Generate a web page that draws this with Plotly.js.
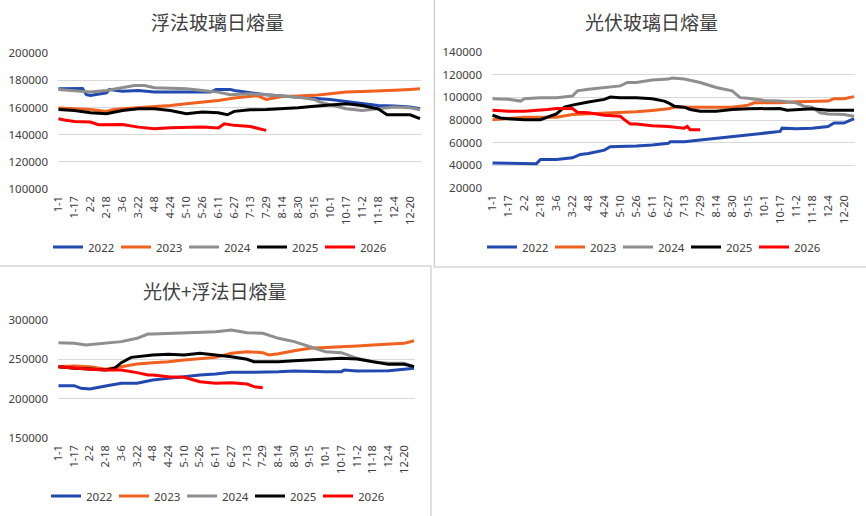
<!DOCTYPE html>
<html>
<head>
<meta charset="utf-8">
<script src="https://cdn.plot.ly/plotly-3.0.1.min.js"></script>
<style>
  html, body { margin: 0; padding: 0; background: #fff; }
  #myDiv { width: 866px; height: 516px; }
</style>
</head>
<body>
<div id="myDiv"></div>
<script>
// x = day index on the category axis (1-1 = 0)
var tickDays = [0,16,32,48,64,80,96,112,128,144,160,176,192,208,224,240,256,272,288,304,320,336,352];
var tickLabels = ['1-1','1-17','2-2','2-18','3-6','3-22','4-8','4-24','5-10','5-26','6-11','6-27','7-13','7-29','8-14','8-30','9-15','10-1','10-17','11-2','11-18','12-4','12-20'];
var years = ['2022','2023','2024','2025','2026'];

// 浮法玻璃日熔量
var float2022x = [0,24,28,32,48,51,64,80,96,152,158,172,176,192,208,224,240,256,272,288,304,320,336,352,362];
var float2022 = [173900,174000,169500,169000,170900,173400,172000,172600,171400,171400,173400,173400,172600,170900,169400,168500,167700,167000,166000,164500,162800,161600,161100,160400,159100];
var float2023x = [0,16,32,48,54,64,80,96,112,128,144,160,176,192,199,208,224,240,256,272,288,304,320,336,352,362];
var float2023 = [159600,159100,158600,157200,158400,159100,159900,160400,161600,162800,164000,165300,167000,168200,168800,166000,168200,168500,169000,170200,171400,171900,172600,172800,173400,173900];
var float2024x = [0,16,32,48,64,76,86,96,112,128,144,160,172,192,208,224,240,256,262,272,288,304,320,336,352,362];
var float2024 = [173400,172600,171500,172600,174400,176300,176300,174600,174300,173900,172600,171400,169400,170200,169400,168500,167700,166000,164000,162100,159100,157900,159100,160400,159900,158400];
var float2025x = [0,16,32,48,64,80,96,112,128,144,160,169,176,192,208,224,240,256,272,288,304,320,329,336,352,362];
var float2025 = [158600,157900,156200,155500,157900,159100,159100,157900,155500,156700,156200,154700,157200,158400,158600,159100,159900,160900,162100,162800,161600,159100,154700,154700,154700,151800];
var float2026x = [0,6,16,32,40,48,64,80,96,112,128,144,160,166,176,192,201,208];
var float2026 = [151800,150800,149800,149300,147400,147400,147600,145600,144400,145100,145100,145600,144900,148100,146900,146100,144400,143200];

// 光伏玻璃日熔量
var solar2022x = [0,16,32,44,48,64,80,88,96,112,118,128,144,160,176,178,192,208,224,240,256,272,288,290,304,320,336,342,352,362];
var solar2022 = [42100,42100,41500,41500,45100,45100,46600,49600,50400,53400,56400,56400,57000,57900,59400,60900,60900,62400,63900,66000,66900,68400,69900,72800,72200,72800,74300,77300,77300,81200];
var solar2023x = [0,16,32,48,64,80,96,112,128,144,160,176,182,192,208,224,240,256,262,272,288,304,320,336,342,352,362];
var solar2023 = [80300,81200,82400,82400,82400,84800,85400,85700,86300,87200,88400,89900,91300,91300,90700,90700,91300,93100,95200,95200,95200,96100,96700,96700,98800,98800,100600];
var solar2024x = [0,16,28,32,48,64,80,85,96,112,128,135,144,160,176,180,192,208,224,240,248,256,272,288,304,312,320,328,336,352,362];
var solar2024 = [98800,98200,96700,98800,99700,99700,101200,105700,107200,108700,110100,113100,113100,115200,116100,117000,116100,113100,108700,105700,99700,99100,97300,96700,95200,92200,91300,86300,85400,84800,83300];
var solar2025x = [0,8,16,32,48,58,64,72,80,96,112,118,128,144,160,172,176,182,192,198,208,224,240,256,272,288,295,304,320,336,352,362];
var solar2025 = [84200,81800,81200,80300,80300,83300,85400,91300,93100,95800,98200,100300,99700,99700,98800,96700,95200,92200,91300,89300,87800,87800,89300,89900,89900,90200,88700,89300,89900,88700,88700,88700];
var solar2026x = [0,16,32,48,55,64,80,85,96,112,128,132,138,144,160,176,192,195,198,208];
var solar2026 = [88700,87800,87800,88400,89300,90200,90200,86900,86300,84200,83300,80300,76400,76400,74900,74300,72800,74300,71300,71300];

// 光伏+浮法日熔量
var total2022x = [0,16,23,32,48,64,80,96,112,128,144,160,176,192,208,224,240,256,272,288,291,304,320,336,352,362];
var total2022 = [216500,216500,213100,212300,216100,219500,219500,223700,225800,228000,230100,231400,233500,233500,233500,234300,235200,234300,234300,234300,236400,235200,235200,235600,237300,238600];
var total2023x = [0,16,32,48,64,80,96,112,128,144,160,176,192,208,214,224,240,256,272,288,304,320,336,352,362];
var total2023 = [240700,241500,240700,237300,240700,244100,245800,247000,249200,251300,252500,257600,259700,258500,255500,257000,261000,264000,264800,266100,266900,268200,269500,270300,273700];
var total2024x = [0,16,28,48,64,80,91,96,112,128,144,160,176,192,208,224,240,256,267,272,288,294,304,320,336,352,362];
var total2024 = [271200,270300,268200,270300,272500,276700,282200,282200,283100,283900,285200,285200,287300,283900,283100,276700,272500,266100,261000,259700,258500,255500,251300,247000,244900,244900,240700];
var total2025x = [0,16,32,48,57,64,74,80,96,112,128,144,160,176,192,199,208,224,240,256,272,288,304,320,332,336,352,362];
var total2025 = [240700,238600,237700,236400,238600,245800,252500,253400,255500,256400,255500,257600,255500,253400,250000,247000,247000,247000,248300,249200,250400,251300,250400,247000,243600,243600,243600,240700];
var total2026x = [0,16,32,48,64,80,91,96,112,128,138,144,160,176,192,199,208];
var total2026 = [240700,238600,237300,236400,236400,233100,230100,230100,228000,227100,223700,221600,219500,220300,218600,215300,214000];

var colors = ['#2149b0','#f0601e','#8e8e8e','#000000','#ff0000'];
var font = 'Noto Sans, "Noto Sans CJK SC", sans-serif';

function makeTraces(xs, ys, xa, ya, leg) {
  var out = [];
  for (var i = 0; i < ys.length; i++) {
    out.push({
      x: xs[i],
      y: ys[i],
      type: 'scatter',
      mode: 'lines',
      name: years[i],
      xaxis: xa,
      yaxis: ya,
      legend: leg,
      line: { color: colors[i], width: 3 },
      hoverinfo: 'x+y'
    });
  }
  return out;
}

var data = []
  .concat(makeTraces([float2022x, float2023x, float2024x, float2025x, float2026x],
                     [float2022, float2023, float2024, float2025, float2026], 'x', 'y', 'legend'))
  .concat(makeTraces([solar2022x, solar2023x, solar2024x, solar2025x, solar2026x],
                     [solar2022, solar2023, solar2024, solar2025, solar2026], 'x2', 'y2', 'legend2'))
  .concat(makeTraces([total2022x, total2023x, total2024x, total2025x, total2026x],
                     [total2022, total2023, total2024, total2025, total2026], 'x3', 'y3', 'legend3'));

function xAxis(dom, anchor) {
  return {
    domain: dom, anchor: anchor, range: [-0.5, 363],
    tickmode: 'array', tickvals: tickDays, ticktext: tickLabels,
    tickangle: -90, showgrid: false, zeroline: false, showline: false,
    ticks: '', ticklabelstandoff: 4, automargin: false,
    tickfont: { family: font, size: 11, color: '#404040' }
  };
}
function yAxis(dom, anchor, rng, step) {
  return {
    domain: dom, anchor: anchor, range: rng, dtick: step, tick0: rng[0],
    showgrid: true, gridcolor: '#d9d9d9', gridwidth: 1, zeroline: false,
    showline: false, ticks: '', ticklabelstandoff: 9, automargin: false,
    tickformat: 'd',
    tickfont: { family: font, size: 11.5, color: '#404040' }
  };
}
function legendAt(x, y) {
  return {
    orientation: 'h', x: x, y: y, xanchor: 'left', yanchor: 'middle',
    entrywidth: 23, entrywidthmode: 'pixels', itemwidth: 30,
    font: { family: font, size: 11.5, color: '#404040' },
    bgcolor: 'rgba(0,0,0,0)', borderwidth: 0
  };
}
function titleAt(text, x, y) {
  return {
    text: text, x: x, y: y, xref: 'paper', yref: 'paper',
    xanchor: 'center', yanchor: 'middle', showarrow: false,
    font: { family: '"Noto Sans CJK SC", sans-serif', size: 19, color: '#404040' }
  };
}

var W = 866, H = 516;
var layout = {
  width: W, height: H,
  margin: { l: 0, r: 0, t: 0, b: 0 },
  paper_bgcolor: '#ffffff', plot_bgcolor: 'rgba(0,0,0,0)',
  showlegend: true,
  xaxis: xAxis([58 / W, 421 / W], 'y'),
  yaxis: yAxis([1 - 189 / H, 1 - 53.3 / H], 'x', [100000, 200000], 20000),
  xaxis2: xAxis([492 / W, 855 / W], 'y2'),
  yaxis2: yAxis([1 - 188 / H, 1 - 52 / H], 'x2', [20000, 140000], 20000),
  xaxis3: xAxis([58 / W, 415 / W], 'y3'),
  yaxis3: yAxis([1 - 438 / H, 1 - 320 / H], 'x3', [150000, 300000], 50000),
  legend: legendAt(48 / W, 1 - 247 / H),
  legend2: legendAt(482 / W, 1 - 247 / H),
  legend3: legendAt(46 / W, 1 - 496 / H),
  annotations: [
    titleAt('浮法玻璃日熔量', 217 / W, 1 - 22 / H),
    titleAt('光伏玻璃日熔量', 651 / W, 1 - 22 / H),
    titleAt('光伏+浮法日熔量', 215 / W, 1 - 290 / H)
  ],
  shapes: [
    { type: 'line', xref: 'paper', yref: 'paper', x0: 434.3 / W, x1: 434.3 / W, y0: 1, y1: 1 - 267 / H, line: { color: '#bfbfbf', width: 1 } },
    { type: 'line', xref: 'paper', yref: 'paper', x0: 434.3 / W, x1: 1, y0: 1 - 267 / H, y1: 1 - 267 / H, line: { color: '#bfbfbf', width: 1 } },
    { type: 'line', xref: 'paper', yref: 'paper', x0: 0, x1: 431 / W, y0: 1 - 266 / H, y1: 1 - 266 / H, line: { color: '#bfbfbf', width: 1 } },
    { type: 'line', xref: 'paper', yref: 'paper', x0: 431 / W, x1: 431 / W, y0: 1 - 266 / H, y1: 0, line: { color: '#bfbfbf', width: 1 } }
  ]
};

Plotly.newPlot('myDiv', data, layout, { staticPlot: true });
</script>
</body>
</html>
